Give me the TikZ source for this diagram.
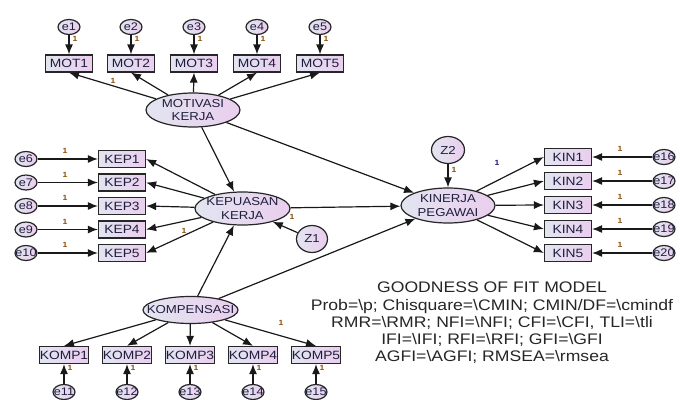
\documentclass[tikz,border=0pt]{standalone}
\usepackage{fontspec}
\setmainfont{Liberation Sans}[FakeStretch=1.15]
\usetikzlibrary{arrows.meta,shapes.geometric}
\definecolor{fillL}{RGB}{226,229,240}
\definecolor{fillR}{RGB}{234,206,238}
\definecolor{txt}{RGB}{30,30,60}
\definecolor{onec}{RGB}{140,80,10}
\definecolor{onenavy}{RGB}{30,30,110}
\begin{document}
\begin{tikzpicture}[x=1pt,y=-1pt,
  obs/.style={draw=black!85, line width=1.2pt, left color=fillL, right color=fillR,
    minimum width=47pt, minimum height=17pt, inner sep=0pt, text=txt,
    font=\fontsize{12}{12}\selectfont},
  lat/.style={ellipse, draw=black!85, line width=1.2pt, left color=fillL, right color=fillR,
    minimum width=94pt, minimum height=34pt, inner sep=0pt},
  lattext/.style={align=center, text=txt, inner sep=0pt, font=\fontsize{11.5}{13.5}\selectfont},
  err/.style={ellipse, draw=black!85, line width=1.2pt, left color=fillL, right color=fillR,
    minimum width=22pt, minimum height=15pt, inner sep=0pt},
  etext/.style={text=txt, inner sep=0pt, font=\fontsize{11}{11}\selectfont},
  dist/.style={ellipse, draw=black!85, line width=1.2pt, left color=fillL, right color=fillR,
    minimum width=31pt, minimum height=27pt, inner sep=0pt},
  arr/.style={-{Latex[length=10pt,width=8pt]}, line width=1.2pt, draw=black!90},
  one/.style={text=onec, inner sep=0pt, font=\fontsize{7.5}{8}\selectfont\bfseries},
  fit/.style={align=center, text=black!85, inner sep=0pt, font=\fontsize{15.3}{17.2}\selectfont}
]
\useasboundingbox[fill=white] (0,0) rectangle (680,399);

% ---------- MOTIVASI ----------
\foreach \i/\x in {1/69,2/131,3/194,4/257,5/320}{
  \node[err, label={[etext]center:e\i}] (e\i) at (\x,27) {};
  \node[obs] (m\i) at (\x,63.5) {MOT\i};
  \draw[arr] (e\i) -- (m\i);
  \node[one] at (\x+6,39) {1};
}
\node[lat] (mk) at (193,110) {};
\node[lattext] at (mk) {MOTIVASI\\KERJA};
\foreach \i in {1,...,5}{ \draw[arr] (mk) -- (m\i.south); }
\node[one] at (113,81) {1};

% ---------- KEPUASAN ----------
\foreach \i/\y [evaluate=\i as \j using int(\i+5)] in {1/159,2/182.5,3/206,4/229.5,5/253}{
  \node[err, label={[etext]center:e\j}] (e\j) at (26,\y) {};
  \node[obs] (k\i) at (122,\y) {KEP\i};
  \draw[arr] (e\j) -- (k\i);
  \node[one] at (65,\y-8) {1};
}
\node[lat, minimum height=33pt, minimum width=95pt] (kp) at (242.5,208.5) {};
\node[lattext] at (kp) {KEPUASAN\\KERJA};
\foreach \i in {1,...,5}{ \draw[arr] (kp) -- (k\i.east); }
\node[one] at (184,231) {1};
\node[dist, label={[etext, font=\fontsize{11.5}{12}\selectfont]center:Z1}] (z1) at (312,239) {};
\draw[arr] (z1) -- (kp);
\node[one] at (292,217) {1};

% ---------- KOMPENSASI ----------
\node[lat, minimum height=27pt, minimum width=95pt] (ko) at (190.5,310) {};
\node[lattext] at (ko) {KOMPENSASI};
\foreach \i/\x [evaluate=\i as \j using int(\i+10)] in {1/64,2/127,3/190,4/253,5/316}{
  \node[err, label={[etext]center:e\j}] (e\j) at (\x,392) {};
  \node[obs] (p\i) at (\x,355) {KOMP\i};
  \draw[arr] (e\j) -- (p\i);
  \node[one] at (\x+6,368) {1};
  \draw[arr] (ko) -- (p\i.north);
}
\node[one] at (281,323) {1};

% ---------- KINERJA ----------
\node[lat, minimum height=35pt] (kn) at (448,205.5) {};
\node[lattext] at (kn) {KINERJA\\PEGAWAI};
\node[dist, minimum width=33pt, label={[etext, font=\fontsize{11.5}{12}\selectfont]center:Z2}] (z2) at (448,150) {};
\draw[arr] (z2) -- (kn);
\node[one] at (454,170) {1};
\foreach \i/\y [evaluate=\i as \j using int(\i+15)] in {1/157,2/181,3/205,4/229,5/253}{
  \node[err, label={[etext]center:e\j}] (e\j) at (664,\y) {};
  \node[obs] (n\i) at (568,\y) {KIN\i};
  \draw[arr] (e\j) -- (n\i);
  \node[one] at (620,\y-8) {1};
  \draw[arr] (kn) -- (n\i.west);
}
\node[one, text=onenavy] at (497,163) {1};

% ---------- structural paths ----------
\draw[arr] (mk) -- (kp);
\draw[arr] (mk) -- (kn);
\draw[arr] (ko) -- (kp);
\draw[arr] (ko) -- (kn);
\draw[arr] (kp) -- (kn);

% ---------- fit text ----------
\node[fit] (gof) at (492,323) {GOODNESS OF FIT MODEL\\
Prob=\textbackslash p; Chisquare=\textbackslash CMIN; CMIN/DF=\textbackslash cmindf\\
RMR=\textbackslash RMR; NFI=\textbackslash NFI; CFI=\textbackslash CFI, TLI=\textbackslash tli\\
IFI=\textbackslash IFI; RFI=\textbackslash RFI; GFI=\textbackslash GFI\\
AGFI=\textbackslash AGFI; RMSEA=\textbackslash rmsea};
\end{tikzpicture}
\end{document}
